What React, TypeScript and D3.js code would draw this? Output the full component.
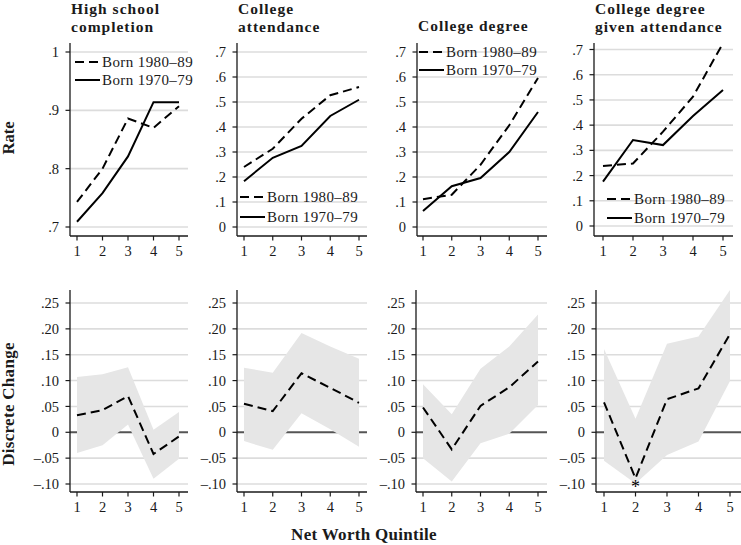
import React from "react";
import * as d3 from "d3";

// ---------- data ----------
const quintiles = [1, 2, 3, 4, 5];
const seriesLabels = ["Born 1980–89", "Born 1970–79"];
const panelTitles: string[][] = [
  ["High school", "completion"],
  ["College", "attendance"],
  ["College degree"],
  ["College degree", "given attendance"],
];

// Rates (top row)
const hsBorn8089 = [0.743, 0.8, 0.886, 0.87, 0.907];
const hsBorn7079 = [0.709, 0.758, 0.821, 0.914, 0.914];
const caBorn8089 = [0.24, 0.313, 0.433, 0.527, 0.56];
const caBorn7079 = [0.183, 0.277, 0.324, 0.444, 0.509];
const cdBorn8089 = [0.111, 0.129, 0.249, 0.407, 0.596];
const cdBorn7079 = [0.064, 0.163, 0.196, 0.3, 0.46];
const cgBorn8089 = [0.238, 0.248, 0.374, 0.513, 0.725];
const cgBorn7079 = [0.176, 0.341, 0.321, 0.436, 0.539];

// Discrete change (bottom row): estimate, lower CI, upper CI
const hsChange = [0.033, 0.043, 0.07, -0.042, -0.008];
const hsLow = [-0.04, -0.025, 0.015, -0.09, -0.051];
const hsHigh = [0.107, 0.112, 0.126, 0.005, 0.039];
const caChange = [0.055, 0.041, 0.114, 0.086, 0.057];
const caLow = [-0.017, -0.034, 0.037, 0.006, -0.028];
const caHigh = [0.125, 0.115, 0.192, 0.166, 0.142];
const cdChange = [0.048, -0.033, 0.051, 0.087, 0.137];
const cdLow = [-0.05, -0.095, -0.021, -0.003, 0.053];
const cdHigh = [0.093, 0.035, 0.123, 0.166, 0.228];
const cgChange = [0.058, -0.089, 0.064, 0.085, 0.19];
const cgLow = [-0.055, -0.099, -0.044, -0.018, 0.099];
const cgHigh = [0.161, 0.026, 0.171, 0.185, 0.275];

const rateTicks1 = [0.7, 0.8, 0.9, 1];
const rateTicksOther = [0, 0.1, 0.2, 0.3, 0.4, 0.5, 0.6, 0.7];
const changeTicks = [-0.1, -0.05, 0, 0.05, 0.1, 0.15, 0.2, 0.25];
const starredQuintile = 2; // significant point in panel 4 bottom

const topRates = [
  [hsBorn8089, hsBorn7079],
  [caBorn8089, caBorn7079],
  [cdBorn8089, cdBorn7079],
  [cgBorn8089, cgBorn7079],
];
const bottomChanges = [
  [hsChange, hsLow, hsHigh],
  [caChange, caLow, caHigh],
  [cdChange, cdLow, cdHigh],
  [cgChange, cgLow, cgHigh],
];

// ---------- layout ----------
const FONT = "'Liberation Serif', 'Times New Roman', serif";
const TXT = "#1a1a1a";
const GRID = "#dcdcdc";
const BAND = "#e6e6e6";

type Layout = {
  axisX: number;
  right: number;
  x1: number;
  x5: number;
};
const topLayouts: Layout[] = [
  { axisX: 70, right: 188, x1: 77, x5: 179 },
  { axisX: 237, right: 367, x1: 244, x5: 359 },
  { axisX: 417, right: 547, x1: 423, x5: 538 },
  { axisX: 594, right: 733, x1: 603, x5: 723 },
];
const bottomLayouts: Layout[] = [
  { axisX: 70, right: 188, x1: 77, x5: 179 },
  { axisX: 237, right: 367, x1: 244, x5: 359 },
  { axisX: 416, right: 547, x1: 423, x5: 538 },
  { axisX: 596, right: 741, x1: 604, x5: 730 },
];
const TOP_AXIS_TOP = 43;
const TOP_AXIS_Y = 236;
const BOT_AXIS_TOP = 290;
const BOT_AXIS_Y = 492;

const topYMaps = [
  { v0: 0.7, y0: 227, v1: 1, y1: 52 },
  { v0: 0, y0: 227, v1: 0.7, y1: 52 },
  { v0: 0, y0: 227, v1: 0.7, y1: 52 },
  { v0: 0, y0: 226, v1: 0.7, y1: 49.5 },
];
const botYMap = { v0: -0.1, y0: 484, v1: 0.25, y1: 303 };

// legend placement: x of sample start, y of first row, row gap
const legendPos = [
  { x: 75, y: 62, gap: 18 },
  { x: 240, y: 197, gap: 20 },
  { x: 419, y: 52, gap: 18 },
  { x: 607, y: 199, gap: 19 },
];

const fmtRate = (v: number) => {
  if (Math.abs(v) < 1e-9) return "0";
  if (Math.abs(v - 1) < 1e-9) return "1";
  return "." + Math.round(v * 10);
};
const fmtChange = (v: number) => {
  if (Math.abs(v) < 1e-9) return "0";
  const s = "." + String(Math.round(Math.abs(v) * 100)).padStart(2, "0");
  return v < 0 ? "–" + s : s;
};

const TICK_FS = 14.5;

function YAxis({ L, y, ticks, fmt, top, bottom }: any) {
  return (
    <g>
      {ticks.map((t: number) => (
        <g key={t}>
          <line x1={L.axisX - 4.5} x2={L.axisX} y1={y(t)} y2={y(t)} stroke={TXT} strokeWidth={1.2} />
          <text
            x={L.axisX - 11}
            y={y(t)}
            dy="0.35em"
            textAnchor="end"
            fontFamily={FONT}
            fontSize={TICK_FS}
            fill={TXT}
          >
            {fmt(t)}
          </text>
        </g>
      ))}
      <line x1={L.axisX} x2={L.axisX} y1={top} y2={bottom} stroke={TXT} strokeWidth={1.3} />
    </g>
  );
}

function XAxis({ L, x, axisY }: any) {
  return (
    <g>
      <line x1={L.axisX} x2={L.right} y1={axisY} y2={axisY} stroke={TXT} strokeWidth={1.3} />
      {quintiles.map((q) => (
        <g key={q}>
          <line x1={x(q)} x2={x(q)} y1={axisY} y2={axisY + 4.5} stroke={TXT} strokeWidth={1.2} />
          <text
            x={x(q)}
            y={axisY + 14.5}
            dy="0.35em"
            textAnchor="middle"
            fontFamily={FONT}
            fontSize={TICK_FS}
            fill={TXT}
          >
            {q}
          </text>
        </g>
      ))}
    </g>
  );
}

function TopPanel({ i }: { i: number }) {
  const L = topLayouts[i];
  const m = topYMaps[i];
  const x = d3.scaleLinear().domain([1, 5]).range([L.x1, L.x5]);
  const y = d3.scaleLinear().domain([m.v0, m.v1]).range([m.y0, m.y1]);
  const ticks = i === 0 ? rateTicks1 : rateTicksOther;
  const line = d3
    .line<number>()
    .x((_, k) => x(quintiles[k]))
    .y((d) => y(d));
  const [s80, s70] = topRates[i];
  const lg = legendPos[i];
  const title = panelTitles[i];
  return (
    <g>
      {ticks.map((t) => (
        <line key={t} x1={L.axisX} x2={L.right} y1={y(t)} y2={y(t)} stroke={GRID} strokeWidth={1.6} />
      ))}
      <path d={line(s80) || ""} fill="none" stroke="#000" strokeWidth={2} strokeDasharray="9,5" />
      <path d={line(s70) || ""} fill="none" stroke="#000" strokeWidth={2} />
      <YAxis L={L} y={y} ticks={ticks} fmt={fmtRate} top={TOP_AXIS_TOP} bottom={TOP_AXIS_Y} />
      <XAxis L={L} x={x} axisY={TOP_AXIS_Y} />
      {seriesLabels.map((lab, k) => (
        <g key={lab}>
          <line
            x1={lg.x}
            x2={lg.x + 25}
            y1={lg.y + k * lg.gap}
            y2={lg.y + k * lg.gap}
            stroke="#000"
            strokeWidth={2}
            strokeDasharray={k === 0 ? "9,5" : undefined}
          />
          <text
            x={lg.x + 27}
            y={lg.y + k * lg.gap}
            dy="0.33em"
            fontFamily={FONT}
            fontSize={15}
            letterSpacing={0.4}
            fill={TXT}
          >
            {lab}
          </text>
        </g>
      ))}
      {title.map((t, k) => (
        <text
          key={t}
          x={L.axisX + 1}
          y={title.length === 1 ? 31 : 14 + k * 17.5}
          fontFamily={FONT}
          fontWeight="bold"
          fontSize={15.5}
          letterSpacing={1}
          fill={TXT}
        >
          {t}
        </text>
      ))}
    </g>
  );
}

function BottomPanel({ i }: { i: number }) {
  const L = bottomLayouts[i];
  const x = d3.scaleLinear().domain([1, 5]).range([L.x1, L.x5]);
  const y = d3.scaleLinear().domain([botYMap.v0, botYMap.v1]).range([botYMap.y0, botYMap.y1]);
  const [est, lo, hi] = bottomChanges[i];
  const area = d3
    .area<number>()
    .x((_, k) => x(quintiles[k]))
    .y0((_, k) => y(lo[k]))
    .y1((_, k) => y(hi[k]));
  const line = d3
    .line<number>()
    .x((_, k) => x(quintiles[k]))
    .y((d) => y(d));
  return (
    <g>
      {changeTicks
        .filter((t) => Math.abs(t) > 1e-9)
        .map((t) => (
          <line key={t} x1={L.axisX} x2={L.right} y1={y(t)} y2={y(t)} stroke={GRID} strokeWidth={1.6} />
        ))}
      <line x1={L.axisX} x2={L.right} y1={y(0)} y2={y(0)} stroke="#555" strokeWidth={2} />
      <path d={area(est) || ""} fill={BAND} stroke="none" />
      <path d={line(est) || ""} fill="none" stroke="#000" strokeWidth={2} strokeDasharray="9,5" />
      {i === 3 && (
        <text
          x={x(starredQuintile)}
          y={y(est[starredQuintile - 1]) + 15}
          textAnchor="middle"
          fontFamily={FONT}
          fontSize={18}
          fill="#000"
        >
          *
        </text>
      )}
      <YAxis L={L} y={y} ticks={changeTicks} fmt={fmtChange} top={BOT_AXIS_TOP} bottom={BOT_AXIS_Y} />
      <XAxis L={L} x={x} axisY={BOT_AXIS_Y} />
    </g>
  );
}

export default function App() {
  return (
    <svg
      width={741}
      height={545}
      style={{ position: "absolute", left: 0, top: 0, background: "#fff" }}
    >
      <rect width={741} height={545} fill="#fff" />
      {[0, 1, 2, 3].map((i) => (
        <TopPanel key={"t" + i} i={i} />
      ))}
      {[0, 1, 2, 3].map((i) => (
        <BottomPanel key={"b" + i} i={i} />
      ))}
      <text
        transform="translate(14,138) rotate(-90)"
        textAnchor="middle"
        fontFamily={FONT}
        fontWeight="bold"
        fontSize={16.5}
        fill={TXT}
      >
        Rate
      </text>
      <text
        transform="translate(14,404) rotate(-90)"
        textAnchor="middle"
        fontFamily={FONT}
        fontWeight="bold"
        fontSize={17}
        letterSpacing={0.3}
        fill={TXT}
      >
        Discrete Change
      </text>
      <text
        x={364}
        y={540}
        textAnchor="middle"
        fontFamily={FONT}
        fontWeight="bold"
        fontSize={17}
        letterSpacing={0.3}
        fill={TXT}
      >
        Net Worth Quintile
      </text>
    </svg>
  );
}
